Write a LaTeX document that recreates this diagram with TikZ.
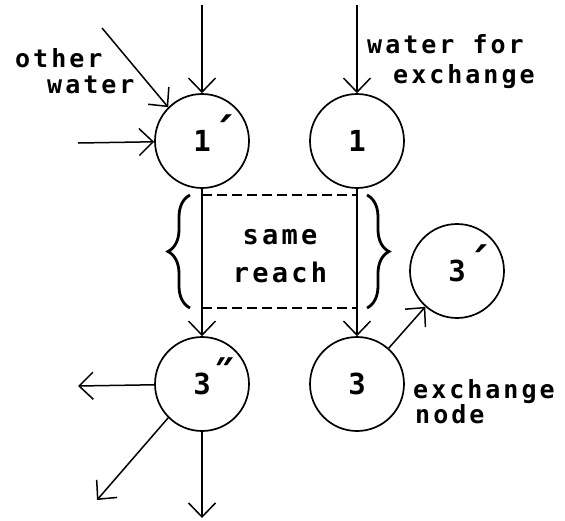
\documentclass[tikz,border=0pt]{standalone}
\usepackage{fontspec}
\newfontfamily\lblfont[LetterSpace=12]{DejaVu Sans Mono Bold}
\newfontfamily\numfont{DejaVu Sans Mono Bold}
\usetikzlibrary{arrows.meta,decorations.pathreplacing}
\newcommand\tick[1]{\smash{\raisebox{2pt}{\scalebox{1.5}{#1}}}}
\begin{document}
\begin{tikzpicture}[x=1pt,y=-1pt,
  nd/.style={circle,draw,line width=1.7pt,minimum size=94pt,inner sep=0pt,
    font=\numfont\fontsize{29}{30}\selectfont},
  arr/.style={line width=1.5pt,-{Straight Barb[length=14pt,width=27pt]}},
  lbl/.style={inner sep=0pt,font=\lblfont\fontsize{25}{26}\selectfont},
  dsh/.style={line width=1.7pt,dash pattern=on 10pt off 5pt},
  brc/.style={line width=2.8pt,decorate,decoration={brace,amplitude=22pt}}]
\useasboundingbox (0,0) rectangle (565,520);

% circles
\node[nd] (n1p)  at (202,141) {1\rlap{\tick{´}}};
\node[nd] (n1)   at (357,141) {1};
\node[nd] (n3pp) at (202,384) {3\rlap{\tick{˝}}};
\node[nd] (n3)   at (357,384) {3};
\node[nd] (n3p)  at (457,271) {3\rlap{\tick{´}}};

% labels
\node[lbl,anchor=base west] (oth) at (15,67) {other};
\node[lbl,anchor=base west] (wat) at (47,93) {water};
\node[lbl,anchor=base west] (wf)  at (367,53) {water for};
\node[lbl,anchor=base west] (ex1) at (393,83) {exchange};
\node[lbl,anchor=base west] (ex2) at (413,398) {exchange};
\node[lbl,anchor=base west] (nd2) at (415,423) {node};
\node[lbl,align=center,font=\lblfont\fontsize{27}{38}\selectfont]
  (reach) at (280,256) {same\\reach};

% free ends
\coordinate (t1p) at (202,5);
\coordinate (t1)  at (357,5);
\coordinate (ow)  at (102,28);
\coordinate (hw)  at (78,143);
\coordinate (ol)  at (78,386);
\coordinate (od)  at (97,500);
\coordinate (odn) at (202,518);
\coordinate (rtl) at (202,195);
\coordinate (rtr) at (357,195);
\coordinate (rbl) at (202,308);
\coordinate (rbr) at (357,308);

% connectors
\draw[arr] (t1p) -- (n1p);
\draw[arr] (t1) -- (n1);
\draw[arr] (ow) -- (n1p.135);
\draw[arr] (hw) -- (n1p);
\draw[arr] (n1p) -- (n3pp);
\draw[arr] (n1) -- (n3);
\draw[arr] (n3) -- (n3p);
\draw[arr] (n3pp) -- (ol);
\draw[arr] (n3pp.225) -- (od);
\draw[arr] (n3pp) -- (odn);

% dashed reach box
\draw[dsh] (rtl) -- (rtr);
\draw[dsh] (rbl) -- (rbr);

% braces
\draw[brc] ([xshift=-12pt]rbl) -- ([xshift=-12pt]rtl);
\draw[brc] ([xshift=10pt]rtr) -- ([xshift=10pt]rbr);
\end{tikzpicture}
\end{document}
